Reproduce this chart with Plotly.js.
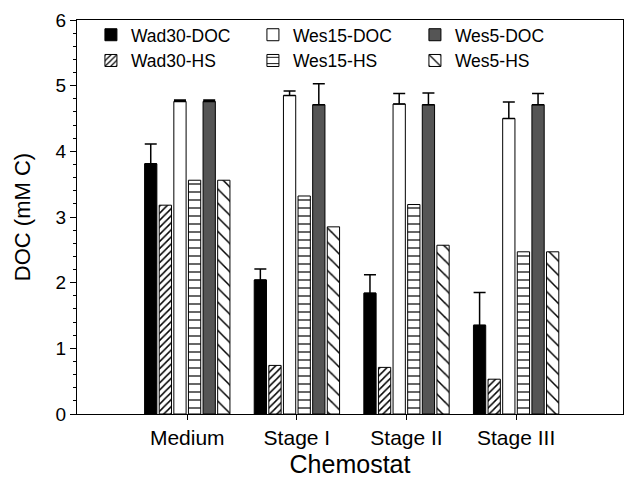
<!DOCTYPE html>
<html>
<head>
<meta charset="utf-8">
<script src="https://cdn.plot.ly/plotly-3.0.1.min.js"></script>
<style>html,body{margin:0;padding:0;background:#fff;}#chart{width:624px;height:478px;}</style>
</head>
<body>
<div id="chart"></div>
<script>
var categories = ['Medium', 'Stage I', 'Stage II', 'Stage III'];
var wad30DOC = [3.81, 2.04, 1.84, 1.35];
var wad30DOCErr = [0.30, 0.17, 0.28, 0.50];
var wad30HS = [3.18, 0.74, 0.71, 0.53];
var wes15DOC = [4.76, 4.85, 4.72, 4.50];
var wes15DOCErr = [0.02, 0.07, 0.16, 0.25];
var wes15HS = [3.56, 3.32, 3.19, 2.47];
var wes5DOC = [4.76, 4.71, 4.71, 4.71];
var wes5DOCErr = [0.02, 0.32, 0.18, 0.17];
var wes5HS = [3.56, 2.85, 2.57, 2.47];
var zeros = [0, 0, 0, 0];

function errBar(arr) {
  return {type: 'data', symmetric: false, array: arr, arrayminus: zeros,
          color: '#000', thickness: 1.5, width: 6, visible: true};
}
var outline = {color: '#000', width: 1};

var traces = [
  {name: 'Wad30-DOC', x: categories, y: wad30DOC, type: 'bar', legendrank: 1,
   marker: {color: '#000000', line: outline}, error_y: errBar(wad30DOCErr)},
  {name: 'Wad30-HS', x: categories, y: wad30HS, type: 'bar', legendrank: 4,
   marker: {color: '#ffffff', line: outline,
            pattern: {shape: '/', size: 5, solidity: 0.3, fgcolor: '#000', bgcolor: '#fff'}}},
  {name: 'Wes15-DOC', x: categories, y: wes15DOC, type: 'bar', legendrank: 2,
   marker: {color: '#ffffff', line: outline}, error_y: errBar(wes15DOCErr)},
  {name: 'Wes15-HS', x: categories, y: wes15HS, type: 'bar', legendrank: 5,
   marker: {color: '#ffffff', line: outline,
            pattern: {shape: '-', size: 8, solidity: 0.15, fgcolor: '#000', bgcolor: '#fff'}}},
  {name: 'Wes5-DOC', x: categories, y: wes5DOC, type: 'bar', legendrank: 3,
   marker: {color: '#555555', line: outline}, error_y: errBar(wes5DOCErr)},
  {name: 'Wes5-HS', x: categories, y: wes5HS, type: 'bar', legendrank: 6,
   marker: {color: '#ffffff', line: outline,
            pattern: {shape: '\\', size: 10, solidity: 0.15, fgcolor: '#000', bgcolor: '#fff'}}}
];

var layout = {
  width: 624, height: 478,
  margin: {l: 77, r: 1, t: 20, b: 64},
  paper_bgcolor: '#fff', plot_bgcolor: '#fff',
  font: {family: '"Liberation Sans", Arial, sans-serif', color: '#000'},
  barmode: 'group', bargap: 0.2, bargroupgap: 0.16,
  showlegend: true,
  legend: {orientation: 'h', x: 0.0255, xanchor: 'left', y: 1.008, yanchor: 'top',
           entrywidth: 117, entrywidthmode: 'pixels', traceorder: 'normal',
           font: {size: 17.5}, bgcolor: 'rgba(0,0,0,0)'},
  xaxis: {
    type: 'category', range: [-1.006, 3.975],
    showline: true, linecolor: '#000', linewidth: 1, mirror: true,
    ticks: 'outside', ticklen: 5, tickcolor: '#000',
    showgrid: false, zeroline: false,
    tickfont: {size: 21},
    title: {text: 'Chemostat', font: {size: 25}, standoff: 9}
  },
  yaxis: {
    range: [0, 6], dtick: 1, tick0: 0,
    showline: true, linecolor: '#000', linewidth: 1, mirror: true,
    ticks: 'outside', ticklen: 6, tickcolor: '#000',
    minor: {dtick: 0.2, ticks: 'outside', ticklen: 3, tickcolor: '#000', showgrid: false},
    showgrid: false, zeroline: false,
    tickfont: {size: 19},
    title: {text: 'DOC (mM C)', font: {size: 22}, standoff: 18}
  }
};

Plotly.newPlot('chart', traces, layout, {displayModeBar: false, staticPlot: true});
</script>
</body>
</html>
